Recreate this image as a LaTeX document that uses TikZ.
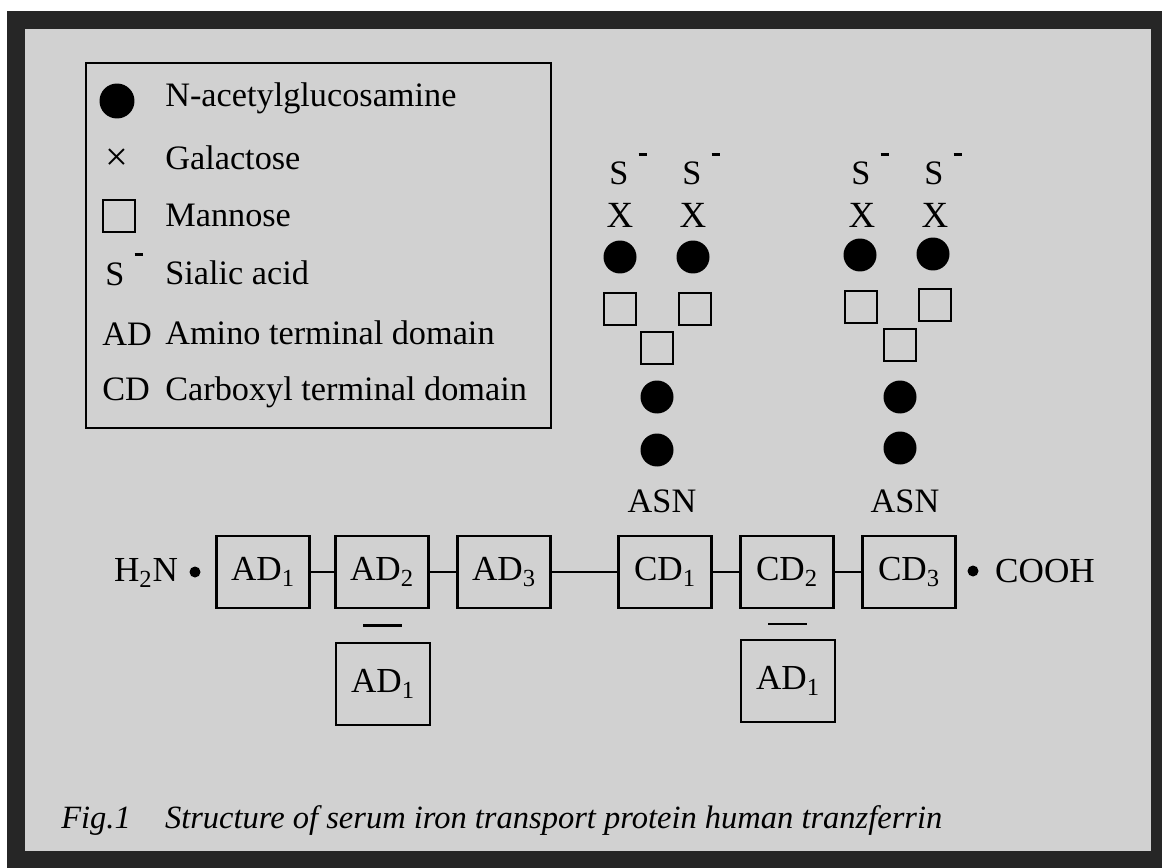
\documentclass[tikz,border=0pt]{standalone}
\usepackage{fontspec}
\setmainfont{Liberation Serif}
\usetikzlibrary{calc}

\tikzset{
  dom/.style={draw, line width=1.6pt, minimum width=1.86cm, minimum height=1.44cm, inner sep=0pt, font=\fontsize{20}{24}\selectfont},
  domlow/.style={dom, minimum width=1.88cm, minimum height=1.64cm},
  glc/.style={circle, fill=black, minimum size=0.66cm, inner sep=0pt},
  man/.style={draw, line width=1.5pt, minimum size=0.64cm, inner sep=0pt},
  sym/.style={inner sep=0pt, font=\fontsize{19.5}{23}\selectfont},
  lgd/.style={anchor=base west, inner sep=0pt, font=\fontsize{19.5}{23}\selectfont},
  link/.style={line width=1.6pt},
}
\newcommand{\sialic}{S\kern0.3em\raisebox{0.85em}{\rule{4.5pt}{1.6pt}}}

\begin{document}
\begin{tikzpicture}[x=0.02cm, y=-0.02cm]
    \useasboundingbox (0,0) rectangle (1162,868);
    \fill[black!18] (16,20) rectangle (1160,860);
    \draw[black!85, line width=0.36cm] (16,20) rectangle (1160,860);

    % legend
    \node[draw, line width=1.3pt, minimum width=9.3cm, minimum height=7.3cm, anchor=north west] (legend) at (85,62) {};
    \node[glc, minimum size=0.7cm] (kglc) at (117,101) {};
    \node[sym, font=\fontsize{23}{26}\selectfont] (kgal) at (117,160) {×};
    \node[man] (kman) at (119,216) {};
    \node[lgd] (ksia) at (105,285) {\sialic};
    \node[lgd] (kad) at (102,345) {AD};
    \node[lgd] (kcd) at (102,400) {CD};
    \node[lgd] (tglc) at (165,107) {N-acetylglucosamine};
    \node[lgd] (tgal) at (165,170) {Galactose};
    \node[lgd] (tman) at (165,226) {Mannose};
    \node[lgd] (tsia) at (165,284) {Sialic acid};
    \node[lgd] (tad) at (165,344) {Amino terminal domain};
    \node[lgd] (tcd) at (165,400) {Carboxyl terminal domain};

    % glycan chains
    \node[sym, anchor=base] (sa1) at (628,185) {\sialic};
    \node[sym, anchor=base] (sa2) at (701,185) {\sialic};
    \node[sym, font=\fontsize{21}{24}\selectfont] (ga1) at (620,215) {X};
    \node[sym, font=\fontsize{21}{24}\selectfont] (ga2) at (693,215) {X};
    \node[glc] (na1) at (620,257) {};
    \node[glc] (na2) at (693,257) {};
    \node[man] (ma1) at (620,309) {};
    \node[man] (ma2) at (695,309) {};
    \node[man] (ma3) at (657,348) {};
    \node[glc] (na3) at (657,397) {};
    \node[glc] (na4) at (657,450) {};
    \node[sym] (asn1) at (662,501) {ASN};

    \node[sym, anchor=base] (sb1) at (870,185) {\sialic};
    \node[sym, anchor=base] (sb2) at (943,185) {\sialic};
    \node[sym, font=\fontsize{21}{24}\selectfont] (gb1) at (862,215) {X};
    \node[sym, font=\fontsize{21}{24}\selectfont] (gb2) at (935,215) {X};
    \node[glc] (nb1) at (860,255) {};
    \node[glc] (nb2) at (933,254) {};
    \node[man] (mb1) at (861,307) {};
    \node[man] (mb2) at (935,305) {};
    \node[man] (mb3) at (900,345) {};
    \node[glc] (nb3) at (900,397) {};
    \node[glc] (nb4) at (900,448) {};
    \node[sym] (asn2) at (905,501) {ASN};

    % domains
    \node[sym, font=\fontsize{20}{24}\selectfont] (h2n) at (146,573) {H\textsubscript{2}N};
    \node[circle, fill=black, minimum size=0.22cm, inner sep=0pt] (nend) at (195,572) {};
    \node[dom] (ad1) at (263,572) {AD\textsubscript{1}};
    \node[dom] (ad2) at (382,572) {AD\textsubscript{2}};
    \node[dom] (ad3) at (504,572) {AD\textsubscript{3}};
    \node[dom] (cd1) at (665,572) {CD\textsubscript{1}};
    \node[dom] (cd2) at (787,572) {CD\textsubscript{2}};
    \node[dom] (cd3) at (909,572) {CD\textsubscript{3}};
    \node[circle, fill=black, minimum size=0.22cm, inner sep=0pt] (cend) at (973,571) {};
    \node[sym, font=\fontsize{20}{24}\selectfont] (cooh) at (1045,571) {COOH};

    \draw[link] (ad1) -- (ad2);
    \draw[link] (ad2) -- (ad3);
    \draw[link] (ad3) -- (cd1);
    \draw[link] (cd1) -- (cd2);
    \draw[link] (cd2) -- (cd3);

    \node[domlow] (adx) at (383,684) {AD\textsubscript{1}};
    \node[domlow] (ady) at (788,681) {AD\textsubscript{1}};
    \coordinate (bar1) at ($(ad2.south)!0.5!(adx.north)$);
    \coordinate (bar2) at ($(cd2.south)!0.5!(ady.north)$);
    \draw[link] (bar1) +(-0.39cm,0) -- +(0.39cm,0);
    \draw[link] (bar2) +(-0.39cm,0) -- +(0.39cm,0);

    \node[anchor=base west, inner sep=0pt, font=\fontsize{18.5}{22}\selectfont\itshape] (caption) at (61,828) {Fig.1\hspace{0.8em} Structure of serum iron transport protein human tranzferrin};
\end{tikzpicture}
\end{document}
